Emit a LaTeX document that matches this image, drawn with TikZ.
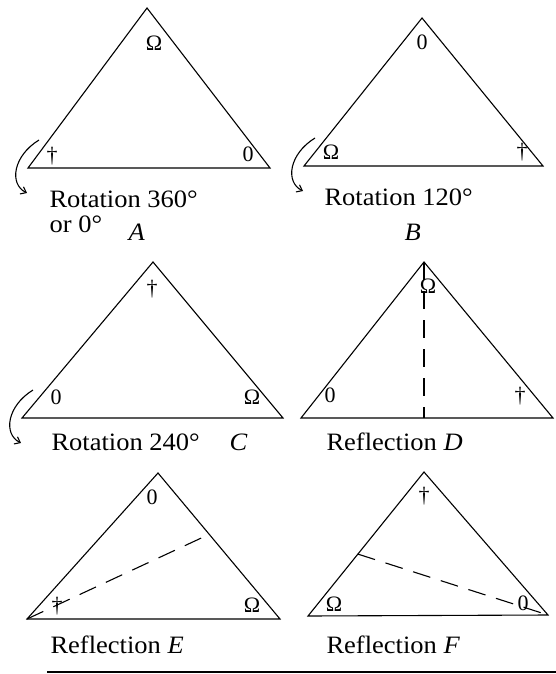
\documentclass[tikz,border=0pt]{standalone}
\usepackage{fontspec}
\setmainfont{Liberation Serif}
\newfontfamily\capfont[FakeStretch=1.06]{Liberation Serif}
\usetikzlibrary{arrows.meta,calc}

\begin{document}
\begin{tikzpicture}[x=1pt, y=-1pt, line width=1.1pt,
  >={Straight Barb[length=5pt,width=8pt]},
  vlabel/.style={font=\fontsize{22}{22}\selectfont, inner sep=0pt},
  caption/.style={font=\capfont\fontsize{25}{25}\selectfont, anchor=base west, inner sep=0pt},
  axis/.style={dash pattern=on 18pt off 11pt},
  rotarrow/.style={->, line width=1.1pt}]
\useasboundingbox (0,0) rectangle (556,674);
% the six triangles: name / apex / left / right
\foreach \t/\ax/\ay/\lx/\ly/\rx/\ry in {
    A/147/8/28/168/270/168,
    B/422/18/304/166/543/166,
    C/153/262/22/418/283/418,
    D/424/262/301/418/553/418,
    E/158/473/27/619/280/619,
    F/424/472/308/616/548/615}{
  \coordinate (\t a) at (\ax,\ay);
  \coordinate (\t l) at (\lx,\ly);
  \coordinate (\t r) at (\rx,\ry);
  \draw (\t a) -- (\t l) -- (\t r) -- cycle;
}
% corner symbols
\foreach \n/\x/\y/\s in {
    A-t/154/43/Ω, A-l/52/156/†, A-r/248/154/0,
    B-t/422/42/0, B-l/331/152/Ω, B-r/522/152/†,
    C-t/152/289/†, C-l/56/397/0, C-r/252/397/Ω,
    D-t/428/286/Ω, D-l/330/395/0, D-r/520/396/†,
    E-t/152/497/0, E-l/57/606/†, E-r/252/605/Ω,
    F-t/424/496/†, F-l/334/604/Ω, F-r/523/603/0}{
  \node[vlabel] (\n) at (\x,\y) {\s};
}
% axes of reflection
\draw[axis] (Da) -- (Da |- Dl);
\coordinate (Em) at ($(Ea)!0.42!(Er)$);
\draw[axis] (El) -- (Em);
\coordinate (Fm) at ($(Fa)!0.57!(Fl)$);
\draw[axis] (Fm) -- (Fr);
% turning arrows
\foreach \t in {A,B,C}{
  \draw[rotarrow] ($(\t l)+(11,-28)$) .. controls ($(\t l)+(-15,-12)$) and ($(\t l)+(-19,16)$) .. ($(\t l)+(-1,25)$);
}
% captions
\node[caption] (capA) at (49,207) {Rotation 360°};
\node[caption] (capA2) at (49,232) {or 0°};
\node[caption] (tagA) at (128,240) {\textit{A}};
\node[caption] (capB) at (324,205) {Rotation 120°};
\node[caption] (tagB) at (404,240) {\textit{B}};
\node[caption] (capC) at (51,450) {Rotation 240°};
\node[caption] (tagC) at (229,450) {\textit{C}};
\node[caption] (capD) at (326,450) {Reflection \textit{D}};
\node[caption] (capE) at (50,653) {Reflection \textit{E}};
\node[caption] (capF) at (326,653) {Reflection \textit{F}};
\coordinate (rule-l) at (47,672);
\coordinate (rule-r) at (556,672);
\draw[line width=1.3pt] (rule-l) -- (rule-r);
\end{tikzpicture}
\end{document}
